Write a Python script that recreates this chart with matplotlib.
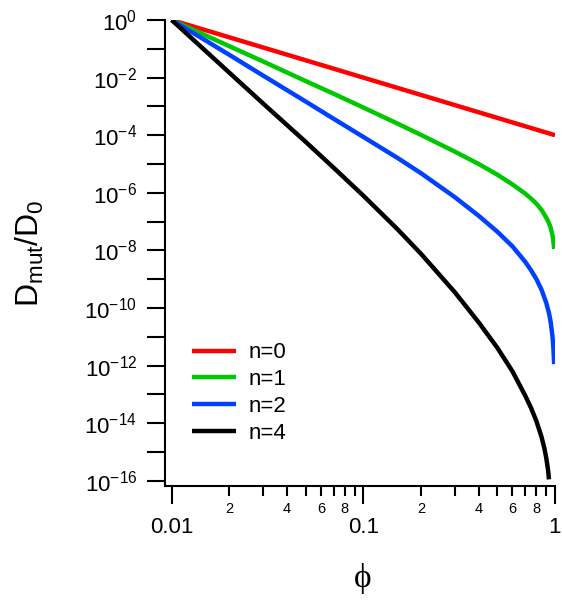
import numpy as np
import matplotlib
matplotlib.use('Agg')
import matplotlib.pyplot as plt
from matplotlib.ticker import FixedLocator, FixedFormatter, NullLocator

plt.rcParams['font.family'] = ['Liberation Sans', 'DejaVu Sans']
plt.rcParams['mathtext.fontset'] = 'custom'
plt.rcParams['mathtext.rm'] = 'Liberation Sans'
plt.rcParams['mathtext.it'] = 'Liberation Sans:italic'

# values; D is kept as log10(Dmut/D0)
phi_n0 = [0.01, 0.1, 1.0]
logd_n0 = [0.0, -2.0, -4.0]

phi_n1 = [0.01, 0.02, 0.03, 0.05, 0.07, 0.1, 0.15, 0.2, 0.3, 0.4, 0.5, 0.6,
          0.7, 0.75, 0.8, 0.85, 0.9, 0.93, 0.95, 0.97, 0.98, 0.99]
logd_n1 = [0.0, -0.91, -1.44, -2.12, -2.56, -3.04, -3.59, -3.99, -4.57, -5.0,
           -5.37, -5.71, -6.03, -6.2, -6.38, -6.59, -6.86, -7.05, -7.22, -7.47,
           -7.66, -7.95]

phi_n2 = [0.01, 0.02, 0.03, 0.05, 0.07, 0.1, 0.15, 0.2, 0.3, 0.4, 0.5, 0.6,
          0.7, 0.75, 0.8, 0.85, 0.9, 0.93, 0.95, 0.97, 0.98, 0.99]
logd_n2 = [0.0, -1.21, -1.93, -2.83, -3.43, -4.06, -4.78, -5.32, -6.15, -6.8,
           -7.35, -7.86, -8.4, -8.69, -9.0, -9.36, -9.82, -10.17, -10.5, -10.98,
           -11.35, -11.95]

phi_n4 = [0.01, 0.015, 0.02, 0.03, 0.05, 0.07, 0.1, 0.15, 0.2, 0.3, 0.4,
          0.5, 0.6, 0.7, 0.75, 0.8, 0.85, 0.88, 0.9, 0.92, 0.93]
logd_n4 = [0.0, -1.07, -1.83, -2.9, -4.23, -5.13, -6.1, -7.25, -8.12, -9.45,
           -10.5, -11.38, -12.2, -13.05, -13.47, -13.93, -14.47, -14.87, -15.2,
           -15.62, -15.95]

series_labels = ['n=0', 'n=1', 'n=2', 'n=4']
series_colors = ['#ff0000', '#00c800', '#0040ff', '#000000']

x_major = [0.01, 0.1, 1.0]
x_major_labels = ['0.01', '0.1', '1']
y_exponents = list(range(0, -17, -1))

fig = plt.figure(figsize=(5.62, 6.02), dpi=100)
ax = fig.add_axes([165 / 562, 1 - 486 / 602, 390 / 562, 466 / 602])

series = [(phi_n0, logd_n0), (phi_n1, logd_n1), (phi_n2, logd_n2), (phi_n4, logd_n4)]
for (phi, logd), lab, col in zip(series, series_labels, series_colors):
    ax.plot(phi, np.power(10.0, logd), color=col, lw=3.2, label=lab,
            solid_capstyle='butt', solid_joinstyle='round')

ax.set_xscale('log')
ax.set_yscale('log')
ax.set_xlim(0.00923, 1.0)
ax.set_ylim(10 ** -16.18, 1.0)

for side in ('top', 'right'):
    ax.spines[side].set_visible(False)
for side in ('left', 'bottom'):
    ax.spines[side].set_linewidth(1.5)

# x ticks: decades labelled large, 2..9 minors with small labels on even ones
x_minor = [k * d for d in (0.01, 0.1) for k in range(2, 10)]
x_minor_labels = [str(k) if k % 2 == 0 else '' for d in (0.01, 0.1) for k in range(2, 10)]
ax.xaxis.set_major_locator(FixedLocator(x_major))
ax.xaxis.set_major_formatter(FixedFormatter(x_major_labels))
ax.xaxis.set_minor_locator(FixedLocator(x_minor))
ax.xaxis.set_minor_formatter(FixedFormatter(x_minor_labels))

# y ticks every decade, labels on even powers only
y_ticks = [10.0 ** e for e in y_exponents]
y_labels = [r'$\mathregular{10^{%d}}$' % e if e % 2 == 0 else '' for e in y_exponents]
ax.yaxis.set_major_locator(FixedLocator(y_ticks))
ax.yaxis.set_major_formatter(FixedFormatter(y_labels))
ax.yaxis.set_minor_locator(NullLocator())

ax.tick_params(axis='x', which='major', direction='out', length=13, width=1.5,
               labelsize=16, pad=9)
ax.tick_params(axis='x', which='minor', direction='out', length=7.5, width=1.5,
               labelsize=10.5, pad=4)
ax.tick_params(axis='y', which='major', direction='out', length=13, width=1.5,
               labelsize=16, pad=7)

fig.text(30 / 562, 1 - 253 / 602, r'$\mathregular{D_{mut}/D_0}$', rotation=90,
         ha='center', va='center', fontsize=23)
fig.text(363 / 562, 1 - 579 / 602, '\u03d5', ha='center', va='center',
         fontsize=24, family=['Liberation Serif', 'DejaVu Serif'])

ax.legend(loc='center left', bbox_to_anchor=((192 - 165) / 390, (486 - 393) / 466),
          frameon=False, fontsize=16, handlelength=2.0, handletextpad=0.55,
          labelspacing=0.26, borderpad=0, borderaxespad=0)

plt.savefig('out.png', dpi=100)
plt.close(fig)
